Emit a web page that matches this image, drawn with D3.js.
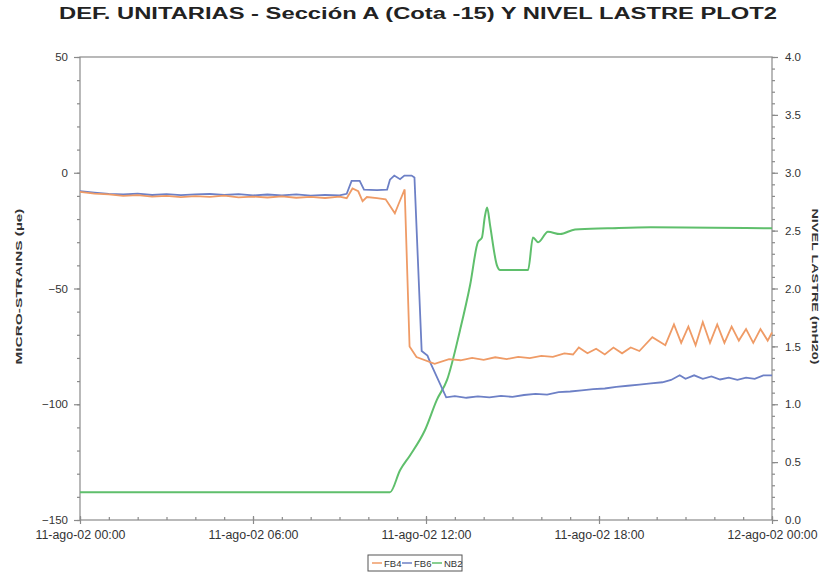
<!DOCTYPE html>
<html><head><meta charset="utf-8">
<script src="https://cdn.jsdelivr.net/npm/d3@7"></script>
<style>
body{margin:0;background:#fff;}
svg text{font-family:Arial,"Liberation Sans",sans-serif;}
</style></head>
<body><svg id="c" width="827" height="585"></svg>
<script>
const title = "DEF. UNITARIAS - Sección A (Cota -15) Y NIVEL LASTRE PLOT2";
const leftLabel = "MICRO-STRAINS (µe)";
const rightLabel = "NIVEL LASTRE (mH20)";
const xTicks = [0, 6, 12, 18, 24];
const xTickLabels = ["11-ago-02 00:00", "11-ago-02 06:00", "11-ago-02 12:00", "11-ago-02 18:00", "12-ago-02 00:00"];
const leftTicks = [50, 0, -50, -100, -150];
const rightTicks = [4.0, 3.5, 3.0, 2.5, 2.0, 1.5, 1.0, 0.5, 0.0];
const seriesNames = ["FB4", "FB6", "NB2"];
const seriesColors = ["#ef9b66", "#6d80c6", "#5fbf6c"];

// hours since 11-ago-02 00:00 , value
const fb4Hours = [0,0.5,1,1.5,2,2.5,3,3.5,4,4.5,5,5.5,6,6.5,7,7.5,8,8.5,9,9.25,9.45,9.65,9.8,9.95,10.3,10.6,10.92,11.05,11.26,11.43,11.67,12.3,12.8,13.2,13.6,14,14.4,14.8,15.2,15.6,16,16.4,16.8,17.1,17.3,17.6,17.9,18.2,18.5,18.8,19.1,19.4,19.85,20.3,20.6,20.85,21.1,21.35,21.6,21.85,22.1,22.35,22.6,22.85,23.1,23.35,23.6,23.85,24];
const fb4Values = [-8.3,-9,-9.3,-10,-9.7,-10.3,-10,-10.5,-10.1,-10.4,-9.9,-10.6,-10.3,-10.7,-10.2,-10.8,-10.4,-10.9,-10.3,-11,-6.8,-8,-12.3,-10.5,-11,-11.5,-17.5,-13.5,-7.2,-75,-79.6,-82.5,-80.5,-81,-80,-80.8,-79.7,-80.5,-79.5,-80.1,-79.1,-79.5,-78,-78.5,-75.5,-78,-76,-78.5,-75.5,-78,-75.5,-77,-71,-74.5,-65.5,-73.5,-66.5,-74.5,-64.5,-73.5,-65.5,-73.5,-66.5,-72.5,-67.5,-73.5,-67.5,-72.5,-69];

const fb6Hours = [0,0.5,1,1.5,2,2.5,3,3.5,4,4.5,5,5.5,6,6.5,7,7.5,8,8.5,9,9.25,9.42,9.7,9.85,10.3,10.65,10.75,10.9,11.1,11.25,11.5,11.6,11.85,12.05,12.15,12.7,13,13.4,13.8,14.2,14.6,15,15.4,15.8,16.2,16.6,17,17.4,17.8,18.2,18.6,19,19.4,19.8,20.2,20.5,20.8,21,21.3,21.6,21.9,22.2,22.5,22.8,23.1,23.4,23.7,24];
const fb6Values = [-8,-8.6,-9.1,-9.4,-9,-9.6,-9.2,-9.7,-9.3,-9.1,-9.6,-9.2,-9.8,-9.4,-9.8,-9.3,-9.9,-9.6,-9.8,-9.1,-3.5,-3.5,-7.3,-7.5,-7.3,-3,-1.2,-2.8,-1.2,-1.2,-2,-77,-79,-82,-97,-96.5,-97.2,-96.6,-97,-96.4,-96.8,-96,-95.5,-95.8,-94.8,-94.5,-94,-93.5,-93.2,-92.5,-92,-91.5,-91,-90.5,-89.5,-87.5,-89,-87.5,-89,-88,-89.3,-88.5,-89.5,-88.5,-89,-87.5,-87.5];

const nb2Hours = [0,10.75,11.1,11.45,11.97,12.38,12.73,13.18,13.53,13.8,13.94,14.04,14.12,14.22,14.46,14.57,15.54,15.71,15.89,16.23,16.65,17.17,18.3,19.8,24];
const nb2Values = [0.24,0.24,0.43,0.56,0.78,1.04,1.21,1.64,2.03,2.40,2.44,2.62,2.70,2.55,2.2,2.16,2.16,2.44,2.40,2.49,2.47,2.51,2.52,2.53,2.52];

const svg = d3.select("#c");
const L = 80, R = 772, T = 57, B = 520;
const x = d3.scaleLinear().domain([0, 24]).range([L, R]);
const yL = d3.scaleLinear().domain([-150, 50]).range([B, T]);
const yR = d3.scaleLinear().domain([0, 4]).range([B, T]);
const axisColor = "#8a8a8a";

// frame
svg.append("rect").attr("x", L).attr("y", T).attr("width", R - L).attr("height", B - T)
  .attr("fill", "none").attr("stroke", axisColor).attr("stroke-width", 1.2);

// title
svg.append("text").attr("x", 418).attr("y", 19).attr("text-anchor", "middle")
  .attr("font-size", 16).attr("font-weight", "bold").attr("fill", "#222")
  .attr("textLength", 718).attr("lengthAdjust", "spacingAndGlyphs").text(title);

// left axis
const gl = svg.append("g").attr("transform", `translate(${L},0)`)
  .call(d3.axisLeft(yL).tickValues(d3.range(-150, 51, 10)).tickSize(3).tickFormat(""));
const gl2 = svg.append("g").attr("transform", `translate(${L},0)`)
  .call(d3.axisLeft(yL).tickValues(leftTicks).tickSize(6).tickPadding(6).tickFormat(d3.format("d")));
// right axis
const gr = svg.append("g").attr("transform", `translate(${R},0)`)
  .call(d3.axisRight(yR).tickValues(d3.range(0, 41).map(d => d / 10)).tickSize(3).tickFormat(""));
const gr2 = svg.append("g").attr("transform", `translate(${R},0)`)
  .call(d3.axisRight(yR).tickValues(rightTicks).tickSize(6).tickPadding(7).tickFormat(d3.format(".1f")));
// bottom axis
const gb = svg.append("g").attr("transform", `translate(0,${B})`)
  .call(d3.axisTop(x).tickValues(d3.range(0, 25)).tickSize(3).tickFormat(""));
const gb2 = svg.append("g").attr("transform", `translate(0,${B - 4})`)
  .call(d3.axisBottom(x).tickValues(xTicks).tickSize(8).tickPadding(6).tickFormat((d, i) => xTickLabels[i]));

[gl, gl2, gr, gr2, gb, gb2].forEach(g => {
  g.select(".domain").remove();
  g.selectAll("line").attr("stroke", axisColor).attr("stroke-width", 1.2);
  g.selectAll("text").attr("font-size", 11.5).attr("fill", "#333");
});
gb2.selectAll("text").attr("font-size", 12).attr("textLength", 90).attr("lengthAdjust", "spacingAndGlyphs");

// axis titles
svg.append("text").attr("transform", `translate(22,${(T + B) / 2 - 2}) rotate(-90)`)
  .attr("text-anchor", "middle").attr("font-size", 9.5).attr("font-weight", "bold").attr("fill", "#333")
  .attr("textLength", 156).attr("lengthAdjust", "spacingAndGlyphs").text(leftLabel);
svg.append("text").attr("transform", `translate(812,${(T + B) / 2 - 2}) rotate(90)`)
  .attr("text-anchor", "middle").attr("font-size", 9.5).attr("font-weight", "bold").attr("fill", "#333")
  .attr("textLength", 156).attr("lengthAdjust", "spacingAndGlyphs").text(rightLabel);

// lines
const mk = (hrs, vals) => hrs.map((h, i) => [h, vals[i]]);
const lineL = d3.line().x(d => x(d[0])).y(d => yL(d[1]));
const lineR = d3.line().x(d => x(d[0])).y(d => yR(d[1])).curve(d3.curveMonotoneX);
svg.append("path").datum(mk(nb2Hours, nb2Values)).attr("d", lineR)
  .attr("fill", "none").attr("stroke", seriesColors[2]).attr("stroke-width", 2);
svg.append("path").datum(mk(fb6Hours, fb6Values)).attr("d", lineL)
  .attr("fill", "none").attr("stroke", seriesColors[1]).attr("stroke-width", 1.8);
svg.append("path").datum(mk(fb4Hours, fb4Values)).attr("d", lineL)
  .attr("fill", "none").attr("stroke", seriesColors[0]).attr("stroke-width", 1.8);

// legend
const lg = svg.append("g").attr("transform", "translate(368,555)");
lg.append("rect").attr("width", 94).attr("height", 16).attr("fill", "#fff").attr("stroke", "#555");
seriesNames.forEach((n, i) => {
  const gx = 4 + i * 30;
  lg.append("line").attr("x1", gx).attr("x2", gx + 10).attr("y1", 8).attr("y2", 8)
    .attr("stroke", seriesColors[i]).attr("stroke-width", 1.5);
  lg.append("text").attr("x", gx + 12).attr("y", 11.5).attr("font-size", 9.5).attr("fill", "#333").text(n);
});
</script></body></html>
